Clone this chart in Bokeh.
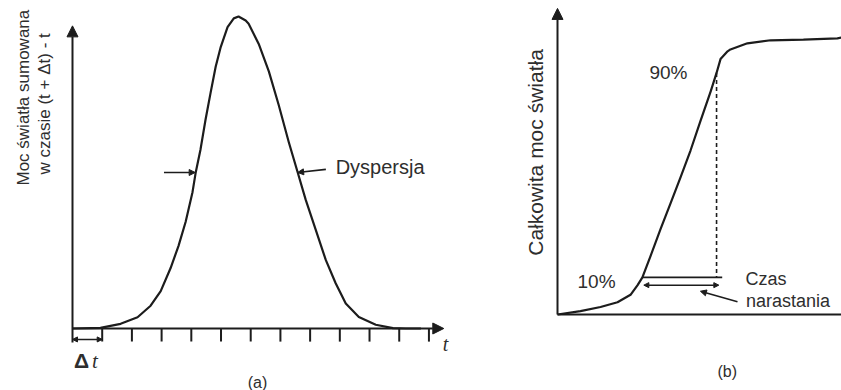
import numpy as np
from bokeh.plotting import figure
from bokeh.models import Range1d, Arrow, NormalHead
from bokeh.core.properties import value
from bokeh.embed import file_html
from bokeh.resources import INLINE

# ---------------- data: panel (a) light power summed over (t, t+dt) ----------------
a_t = [0.0, 0.94, 1.62, 2.19, 2.63, 2.97, 3.30, 3.57, 3.81, 4.04, 4.15, 4.31, 4.48, 4.65,
       4.82, 4.99, 5.22, 5.43, 5.59, 5.83, 5.93, 6.27, 6.61, 6.94, 7.28, 7.58, 7.85, 8.19,
       8.53, 8.86, 9.20, 9.64, 10.21, 10.79, 11.22, 11.73]
a_power = [0.0, 0.002, 0.015, 0.036, 0.073, 0.120, 0.193, 0.265, 0.342, 0.437, 0.501, 0.574,
           0.670, 0.756, 0.839, 0.902, 0.966, 0.994, 1.0, 0.987, 0.977, 0.912, 0.824, 0.717,
           0.598, 0.501, 0.413, 0.316, 0.219, 0.145, 0.080, 0.037, 0.012, 0.001, 0.0, 0.0]
a_ticks = [1, 2, 3, 4, 5, 6, 7, 8, 9, 10, 11, 12]
a_axis_end = 12.5          # end of t axis (arrow)
a_yaxis_top = 0.97
disp_left = 4.13           # half-maximum points (dispersion)
disp_right = 7.58
disp_level = 0.5

# ---------------- data: panel (b) total light power (cumulative) ----------------
b_t = [0.0, 0.81, 1.52, 2.12, 2.58, 2.83, 3.00, 3.29, 3.64, 3.99, 4.35, 4.70, 5.05, 5.41,
       5.62, 5.76, 6.01, 6.11, 6.71, 7.53, 8.69, 9.89, 10.04]
b_power = [0.0, 0.012, 0.027, 0.044, 0.071, 0.106, 0.134, 0.212, 0.308, 0.400, 0.496, 0.592,
           0.698, 0.805, 0.872, 0.922, 0.950, 0.957, 0.979, 0.990, 0.992, 0.997, 1.0]
t10, p10 = 3.00, 0.134
t90, p90 = 5.62, 0.872
t_rise_end = 5.82
b_axis_end = 10.05
b_yaxis_top = 1.105

INK = "#1c1c1c"
TXT = "#2e2e2e"
FONT = value("Liberation Sans")

p = figure(width=841, height=390,
           x_range=Range1d(-2.424, 25.89), y_range=Range1d(-0.1987, 1.0513),
           output_backend="svg", toolbar_location=None,
           x_axis_location=None, y_axis_location=None, min_border=0)
p.extra_x_ranges = {"bx": Range1d(-19.682, 10.035)}
p.extra_y_ranges = {"by": Range1d(-0.2744, 1.1336)}
p.grid.visible = False
p.outline_line_color = None
p.background_fill_color = "white"
p.border_fill_color = "white"

# ======== panel (a) ========
p.add_layout(Arrow(x_start=0, y_start=-0.045, x_end=0, y_end=a_yaxis_top,
                   line_color=INK, line_width=2,
                   end=NormalHead(size=11, fill_color=INK, line_color=INK)))
p.add_layout(Arrow(x_start=0, y_start=0, x_end=a_axis_end, y_end=0,
                   line_color=INK, line_width=2,
                   end=NormalHead(size=11, fill_color=INK, line_color=INK)))
p.segment(x0=a_ticks, y0=[0] * len(a_ticks), x1=a_ticks, y1=[-0.042] * len(a_ticks),
          line_color=INK, line_width=2)
p.line(a_t, a_power, line_color=INK, line_width=2.2, line_join="round")
# dispersion arrows
p.add_layout(Arrow(x_start=disp_left - 1.05, y_start=disp_level, x_end=disp_left, y_end=disp_level,
                   line_color=INK, line_width=1.6,
                   end=NormalHead(size=6, fill_color=INK, line_color=INK)))
p.add_layout(Arrow(x_start=disp_right + 0.95, y_start=disp_level + 0.01, x_end=disp_right, y_end=disp_level,
                   line_color=INK, line_width=1.6,
                   end=NormalHead(size=6, fill_color=INK, line_color=INK)))
p.text(x=[disp_right + 1.28], y=[disp_level + 0.017], text=["Dyspersja"], text_font=FONT,
       text_font_size="20px", text_color=TXT, text_align="left", text_baseline="middle")
# delta t marker
p.add_layout(Arrow(x_start=0, y_start=-0.035, x_end=1, y_end=-0.035,
                   line_color=INK, line_width=1.4,
                   start=NormalHead(size=5, fill_color=INK, line_color=INK),
                   end=NormalHead(size=5, fill_color=INK, line_color=INK)))
p.text(x=[0.05], y=[-0.103], text=["Δ"], text_font=FONT, text_font_size="21px",
       text_font_style="bold", text_color=TXT, text_align="left", text_baseline="middle")
p.text(x=[0.66], y=[-0.103], text=["t"], text_font=value("Liberation Serif"), text_font_size="21px",
       text_font_style="italic", text_color=TXT, text_align="left", text_baseline="middle")
p.text(x=[12.56], y=[-0.05], text=["t"], text_font=value("Liberation Serif"), text_font_size="20px",
       text_font_style="italic", text_color=TXT, text_align="center", text_baseline="middle")
p.text(x=[-1.66, -0.95], y=[0.74, 0.72],
       text=["Moc światła sumowana", "w czasie (t + Δt) - t"],
       angle=np.pi / 2, text_font=FONT, text_font_size="17px", text_color=TXT,
       text_align="center", text_baseline="middle")
p.text(x=[6.23], y=[-0.173], text=["(a)"], text_font=FONT, text_font_size="16px",
       text_color=TXT, text_align="center", text_baseline="middle")

# ======== panel (b) ========
p.add_layout(Arrow(x_start=0, y_start=0, x_end=0, y_end=b_yaxis_top,
                   x_range_name="bx", y_range_name="by",
                   line_color=INK, line_width=2,
                   end=NormalHead(size=11, fill_color=INK, line_color=INK)))
p.line([0, b_axis_end], [0, 0], x_range_name="bx", y_range_name="by",
       line_color=INK, line_width=2)
p.line(b_t, b_power, x_range_name="bx", y_range_name="by", line_color=INK, line_width=2.2,
       line_join="round")
p.line([t90, t90], [p90, p10], x_range_name="bx", y_range_name="by",
       line_color=INK, line_width=1.6, line_dash="4 3")
p.line([t10, t_rise_end], [p10, p10], x_range_name="bx", y_range_name="by",
       line_color=INK, line_width=1.6)
p.add_layout(Arrow(x_start=t10 + 0.05, y_start=p10 - 0.028, x_end=t_rise_end - 0.12, y_end=p10 - 0.028,
                   x_range_name="bx", y_range_name="by",
                   line_color=INK, line_width=1.5,
                   start=NormalHead(size=5, fill_color=INK, line_color=INK),
                   end=NormalHead(size=5, fill_color=INK, line_color=INK)))
p.add_layout(Arrow(x_start=6.36, y_start=0.046, x_end=5.05, y_end=0.084,
                   x_range_name="bx", y_range_name="by",
                   line_color=INK, line_width=1.5,
                   end=NormalHead(size=6, fill_color=INK, line_color=INK)))
p.text(x=[1.38], y=[0.119], text=["10%"], x_range_name="bx", y_range_name="by",
       text_font=FONT, text_font_size="19px", text_color=TXT,
       text_align="center", text_baseline="middle")
p.text(x=[3.92], y=[0.873], text=["90%"], x_range_name="bx", y_range_name="by",
       text_font=FONT, text_font_size="19px", text_color=TXT,
       text_align="center", text_baseline="middle")
p.text(x=[6.64, 6.66], y=[0.128, 0.047], text=["Czas", "narastania"],
       x_range_name="bx", y_range_name="by",
       text_font=FONT, text_font_size="18px", text_color=TXT,
       text_align="left", text_baseline="middle")
p.text(x=[-0.78], y=[0.585], text=["Całkowita moc światła"], angle=np.pi / 2,
       x_range_name="bx", y_range_name="by",
       text_font=FONT, text_font_size="21px", text_color=TXT,
       text_align="center", text_baseline="middle")
p.text(x=[6.0], y=[-0.205], text=["(b)"], x_range_name="bx", y_range_name="by",
       text_font=FONT, text_font_size="16px", text_color=TXT,
       text_align="center", text_baseline="middle")

open("out.html", "w").write(file_html(p, INLINE))
